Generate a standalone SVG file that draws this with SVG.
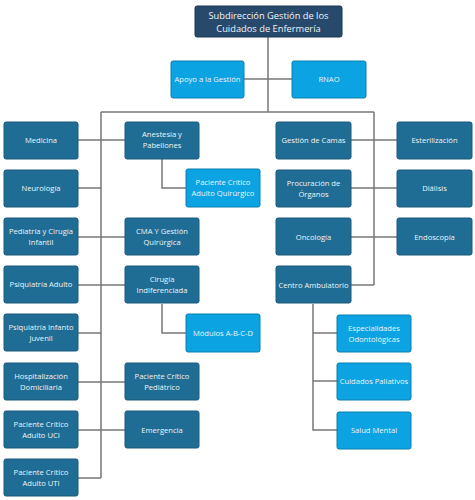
<svg xmlns="http://www.w3.org/2000/svg" width="475" height="500" viewBox="0 0 475 500">
<style>
.d{fill:#1F6D94;stroke:#195a7b;stroke-width:1}
.l{fill:#0BA3E2;stroke:#0a7fb0;stroke-width:1}
.t{fill:#27496B;stroke:#1c3853;stroke-width:1}
text{font-family:"Open Sans","Noto Sans","DejaVu Sans",sans-serif;font-size:7.6px;fill:#eef4f8;text-anchor:middle}
.big{font-size:9.3px}
#connectors path{fill:none;stroke:#777;stroke-width:1.5}
</style>
<rect width="475" height="500" fill="#fff"/>
<g id="connectors">
<path d="M268 37V112"/>
<path d="M244 79H292"/>
<path d="M101 112H374"/>
<path d="M101 112V478"/>
<path d="M374 112V285"/>
<path d="M78 140H125"/>
<path d="M78 188H101"/>
<path d="M78 237H125"/>
<path d="M78 285H125"/>
<path d="M78 333H101"/>
<path d="M78 382H125"/>
<path d="M78 430H125"/>
<path d="M78 478H101"/>
<path d="M162 158V188H186"/>
<path d="M162 304V333H186"/>
<path d="M351 140H397"/>
<path d="M351 188H397"/>
<path d="M351 237H397"/>
<path d="M351 285H374"/>
<path d="M313 304V430H337"/>
<path d="M313 333H337"/>
<path d="M313 381H337"/>
</g>
<g id="n-top"><rect class="t" x="195" y="6" width="147" height="31" rx="2"/><text class="big" x="268.5" y="19">Subdirección Gestión de los</text><text class="big" x="268.5" y="32">Cuidados de Enfermería</text></g>
<g id="n-apoyo"><rect class="l" x="171" y="61" width="73" height="37" rx="2"/><text x="207.5" y="82">Apoyo a la Gestión</text></g>
<g id="n-rnao"><rect class="l" x="292" y="61" width="74" height="37" rx="2"/><text x="329" y="82">RNAO</text></g>

<g id="n-medicina"><rect class="d" x="4" y="122" width="74" height="37" rx="2"/><text x="41" y="143">Medicina</text></g>
<g id="n-neurologia"><rect class="d" x="4" y="170" width="74" height="37" rx="2"/><text x="41" y="191">Neurología</text></g>
<g id="n-pediatria"><rect class="d" x="4" y="218" width="74" height="37" rx="2"/><text x="41" y="234">Pediatría y Cirugía</text><text x="41" y="245">Infantil</text></g>
<g id="n-psiqadulto"><rect class="d" x="4" y="266" width="74" height="37" rx="2"/><text x="41" y="287">Psiquiatría Adulto</text></g>
<g id="n-psiqinf"><rect class="d" x="4" y="314" width="74" height="37" rx="2"/><text x="41" y="330">Psiquiatría Infanto</text><text x="41" y="341">Juvenil</text></g>
<g id="n-hosp"><rect class="d" x="4" y="363" width="74" height="37" rx="2"/><text x="41" y="379">Hospitalización</text><text x="41" y="390">Domiciliaria</text></g>
<g id="n-uci"><rect class="d" x="4" y="411" width="74" height="37" rx="2"/><text x="41" y="427">Paciente Crítico</text><text x="41" y="438">Adulto UCI</text></g>
<g id="n-uti"><rect class="d" x="4" y="459" width="74" height="37" rx="2"/><text x="41" y="475">Paciente Crítico</text><text x="41" y="486">Adulto UTI</text></g>

<g id="n-anestesia"><rect class="d" x="125" y="122" width="74" height="37" rx="2"/><text x="162" y="137">Anestesia y</text><text x="162" y="148">Pabellones</text></g>
<g id="n-cma"><rect class="d" x="125" y="218" width="74" height="37" rx="2"/><text x="162" y="234">CMA Y Gestión</text><text x="162" y="245">Quirúrgica</text></g>
<g id="n-cirugia"><rect class="d" x="125" y="266" width="74" height="37" rx="2"/><text x="162" y="282">Cirugía</text><text x="162" y="293">Indiferenciada</text></g>
<g id="n-pedcrit"><rect class="d" x="125" y="363" width="74" height="37" rx="2"/><text x="162" y="379">Paciente Crítico</text><text x="162" y="390">Pediátrico</text></g>
<g id="n-emergencia"><rect class="d" x="125" y="411" width="74" height="37" rx="2"/><text x="162" y="433">Emergencia</text></g>

<g id="n-quirurgico"><rect class="l" x="186" y="169" width="74" height="38" rx="2"/><text x="223" y="185">Paciente Crítico</text><text x="223" y="196">Adulto Quirúrgico</text></g>
<g id="n-modulos"><rect class="l" x="186" y="314" width="74" height="38" rx="2"/><text x="223" y="336">Módulos A-B-C-D</text></g>

<g id="n-camas"><rect class="d" x="276" y="122" width="75" height="37" rx="2"/><text x="313.5" y="143">Gestión de Camas</text></g>
<g id="n-procuracion"><rect class="d" x="276" y="170" width="75" height="37" rx="2"/><text x="313.5" y="186">Procuración de</text><text x="313.5" y="197">Órganos</text></g>
<g id="n-oncologia"><rect class="d" x="276" y="218" width="75" height="37" rx="2"/><text x="313.5" y="240">Oncología</text></g>
<g id="n-centro"><rect class="d" x="276" y="266" width="75" height="37" rx="2"/><text x="313.5" y="288">Centro Ambulatorio</text></g>

<g id="n-esterilizacion"><rect class="d" x="397" y="122" width="75" height="37" rx="2"/><text x="434.5" y="143">Esterilización</text></g>
<g id="n-dialisis"><rect class="d" x="397" y="170" width="75" height="37" rx="2"/><text x="434.5" y="191">Diálisis</text></g>
<g id="n-endoscopia"><rect class="d" x="397" y="218" width="75" height="37" rx="2"/><text x="434.5" y="240">Endoscopía</text></g>

<g id="n-odonto"><rect class="l" x="337" y="315" width="74" height="37" rx="2"/><text x="374" y="331">Especialidades</text><text x="374" y="342">Odontológicas</text></g>
<g id="n-paliativos"><rect class="l" x="337" y="363" width="74" height="37" rx="2"/><text x="374" y="384">Cuidados Paliativos</text></g>
<g id="n-salud"><rect class="l" x="337" y="412" width="74" height="37" rx="2"/><text x="374" y="433">Salud Mental</text></g>
</svg>
